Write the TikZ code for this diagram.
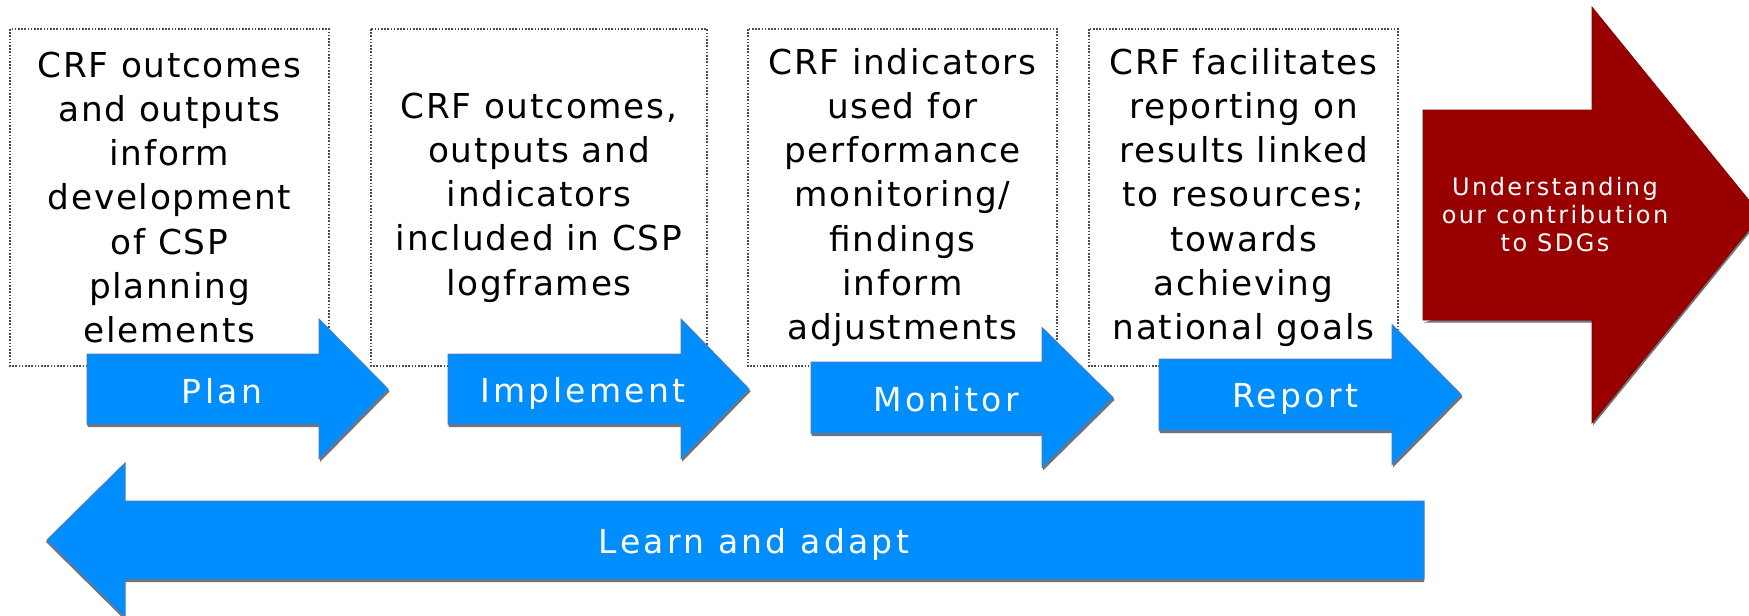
\documentclass[tikz,border=0pt]{standalone}
\usepackage{fontspec}
\setmainfont[LetterSpace=5]{DejaVu Sans}
\newfontfamily\wideface[LetterSpace=10]{DejaVu Sans}
\begin{document}
\begin{tikzpicture}[x=1pt,y=-1pt,
  stepbox/.style={draw=black!70, line width=1.2pt, dash pattern=on 1.6pt off 1.6pt},
  boxtext/.style={align=center, inner sep=0pt, font=\fontsize{34.3}{44.3}\selectfont},
  bluearrow/.style={fill=arrowblue, draw=arrowedge, line width=1pt},
  redarrow/.style={fill=arrowred, draw=arrowred!80!black, line width=0.6pt},
  arrowshadow/.style={fill=black!55},
  arrowlabel/.style={text=white, inner sep=0pt, anchor=base, font=\wideface\fontsize{33}{40}\selectfont},
]
\definecolor{arrowblue}{RGB}{0,142,255}
\definecolor{arrowedge}{RGB}{70,125,195}
\definecolor{arrowred}{RGB}{153,0,0}
\useasboundingbox (0,0) rectangle (1749,616);

% text boxes
\draw[stepbox] (10,29) rectangle (329,366);
\draw[stepbox] (371,29) rectangle (707,366);
\draw[stepbox] (748,29) rectangle (1057,366);
\draw[stepbox] (1089,29) rectangle (1398,366);

\node[boxtext] (t1) at (169.5,197.5) {CRF outcomes\\and outputs\\inform\\development\\of CSP\\planning\\elements};
\node[boxtext] (t2) at (539,197.5) {CRF outcomes,\\outputs and\\indicators\\included in CSP\\logframes};
\node[boxtext] (t3) at (902.5,197.5) {CRF indicators\\used for\\performance\\monitoring/\\findings\\inform\\adjustments};
\node[boxtext] (t4) at (1243.5,197.5) {CRF facilitates\\reporting on\\results linked\\to resources;\\towards\\achieving\\national goals};

% red arrow
\begin{scope}
\clip (0,0) rectangle (1749,616);
\fill[arrowshadow] (1424,322.5) -- (1593,322.5) -- (1593,425.5) -- (1762,217.5) -- (1762,217) -- cycle;
\draw[redarrow] (1423,110) -- (1592,110) -- (1592,7) -- (1761,215) -- (1592,423) -- (1592,320) -- (1423,320) -- cycle;
\end{scope}
\node[text=white, align=center, inner sep=0pt, font=\wideface\fontsize{24}{28}\selectfont] (sdg) at (1555,215) {Understanding\\our contribution\\to SDGs};

% blue step arrows: shadow then arrow
\foreach \xa/\xb/\xt/\yc/\sh in {87/319/388/389/35, 448/681/749/389/35, 811/1042/1113/397.5/35.5, 1159/1392/1461/394.5/35.5}{
  \fill[arrowshadow] (\xa+1,\yc+\sh+3) -- (\xb+1,\yc+\sh+3) -- (\xb+1,\yc+73) -- (\xt+1.5,\yc+2.5) -- (\xt,\yc) -- (\xb,\yc+70) -- (\xb,\yc+\sh) -- (\xa,\yc+\sh) -- cycle;
  \draw[bluearrow] (\xa,\yc-\sh) -- (\xb,\yc-\sh) -- (\xb,\yc-70) -- (\xt,\yc) -- (\xb,\yc+70) -- (\xb,\yc+\sh) -- (\xa,\yc+\sh) -- cycle;
}
\node[arrowlabel] (plan) at (222,403) {Plan};
\node[arrowlabel] (impl) at (583,402) {Implement};
\node[arrowlabel] (mon) at (946,411) {Monitor};
\node[arrowlabel] (rep) at (1295,407) {Report};

% learn and adapt arrow
\fill[arrowshadow] (1424,582) -- (125,582) -- (125,620) -- (46,542) -- (47,540) -- (125,617) -- (125,579) -- (1424,579) -- cycle;
\draw[bluearrow] (1424,501) -- (125,501) -- (125,463) -- (47,540) -- (125,617) -- (125,579) -- (1424,579) -- cycle;
\node[arrowlabel] (learn) at (754,553) {Learn and adapt};
\end{tikzpicture}
\end{document}
